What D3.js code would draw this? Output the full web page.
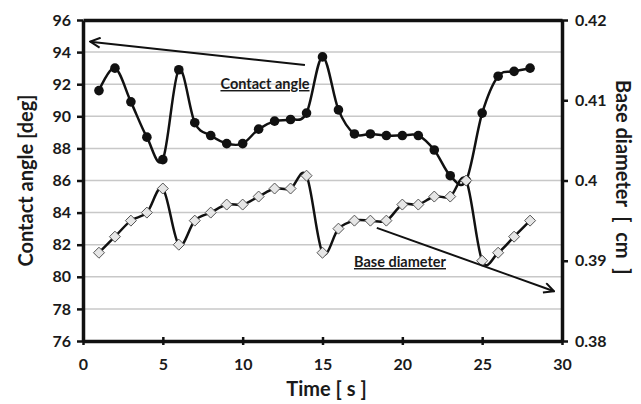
<!DOCTYPE html>
<html>
<head>
<meta charset="utf-8">
<script src="https://cdn.jsdelivr.net/npm/d3@7"></script>
<style>
  body { margin: 0; background: #fff; }
  text { font-family: Lato, "Open Sans", sans-serif; font-weight: bold; fill: #1a1a1a; }
</style>
</head>
<body>
<script>
// data
var tempo = [1, 2, 3, 4, 5, 6, 7, 8, 9, 10, 11, 12, 13, 14, 15, 16, 17, 18, 19, 20,
  21, 22, 23, 24, 25, 26, 27, 28]

var anguloContato = [91.6, 93.0, 90.9, 88.7, 87.3, 92.9, 89.6, 88.8, 88.3, 88.3,
  89.2, 89.7, 89.8, 90.2, 93.7, 90.4, 88.9, 88.9, 88.8, 88.8, 88.8, 87.9, 86.3,
  86.0, 90.2, 92.5, 92.8, 93.0]

var diametroBase = [0.391, 0.393, 0.395, 0.396, 0.399, 0.392, 0.395, 0.396, 0.397,
  0.397, 0.398, 0.399, 0.399, 0.4006, 0.391, 0.394, 0.395, 0.395, 0.395, 0.397,
  0.397, 0.398, 0.398, 0.400, 0.390, 0.391, 0.393, 0.395]

var ticksX = [0, 5, 10, 15, 20, 25, 30]
var ticksAngulo = [76, 78, 80, 82, 84, 86, 88, 90, 92, 94, 96]
var ticksDiametro = [0.38, 0.39, 0.40, 0.41, 0.42]

// setas das anotacoes [tempo, valor]
var setaAngulo = [[13.9, 93.2], [0.45, 94.65]]
var setaDiametro = [[18.4, 0.3941], [29.5, 0.3862]]

var dadosAngulo = tempo.map(function (t, i) { return {t: t, v: anguloContato[i]} })
var dadosDiametro = tempo.map(function (t, i) { return {t: t, v: diametroBase[i]} })

const largura = 641
const altura = 404
const margem = {topo: 20, direita: 79, base: 63, esquerda: 83}

var svg = d3.select('body').append('svg')
  .attr('width', largura)
  .attr('height', altura)

var x = d3.scaleLinear().domain([0, 30]).range([margem.esquerda, largura - margem.direita])
var yA = d3.scaleLinear().domain([76, 96]).range([altura - margem.base, margem.topo])
var yD = d3.scaleLinear().domain([0.38, 0.42]).range([altura - margem.base, margem.topo])

svg.append('defs').append('marker')
  .attr('id', 'ponta')
  .attr('viewBox', '0 0 12 12')
  .attr('refX', 11).attr('refY', 6)
  .attr('markerWidth', 12).attr('markerHeight', 12)
  .attr('markerUnits', 'userSpaceOnUse')
  .attr('orient', 'auto')
  .append('path')
  .attr('d', 'M1,1 L11,6 L1,11')
  .attr('fill', 'none')
  .attr('stroke', '#111')
  .attr('stroke-width', 2)

// linhas de grade
svg.append('g')
  .selectAll('line')
  .data(ticksAngulo.slice(1, -1))
  .join('line')
  .attr('x1', x(0)).attr('x2', x(30))
  .attr('y1', d => yA(d)).attr('y2', d => yA(d))
  .attr('stroke', '#c8c8c8')
  .attr('stroke-width', 1.5)

// eixos
var eixoEsq = svg.append('g')
  .attr('transform', 'translate(' + x(0) + ',0)')
  .call(d3.axisLeft(yA).tickValues(ticksAngulo).tickSize(6).tickPadding(6).tickSizeOuter(0))

var eixoDir = svg.append('g')
  .attr('transform', 'translate(' + x(30) + ',0)')
  .call(d3.axisRight(yD).tickValues(ticksDiametro).tickSize(6).tickPadding(7)
    .tickSizeOuter(0).tickFormat(d => d3.format('')(+d.toFixed(2))))

var eixoBase = svg.append('g')
  .attr('transform', 'translate(0,' + yA(76) + ')')
  .call(d3.axisBottom(x).tickValues(ticksX).tickSize(4).tickPadding(14).tickSizeOuter(0))

var eixoTopo = svg.append('g')
  .attr('transform', 'translate(0,' + yA(96) + ')')
  .call(d3.axisTop(x).tickValues([]).tickSizeOuter(0))

;[eixoEsq, eixoDir, eixoBase, eixoTopo].forEach(function (g) {
  g.select('.domain').attr('stroke', '#111').attr('stroke-width', 3.5)
  g.selectAll('.tick line').attr('stroke', '#111').attr('stroke-width', 2.5)
  g.selectAll('.tick text').attr('font-size', 16).attr('fill', '#1a1a1a')
})
eixoBase.selectAll('.tick line').attr('y1', -4)

// curvas
var linha = function (escala) {
  return d3.line()
    .x(d => x(d.t))
    .y(d => escala(d.v))
    .curve(d3.curveCatmullRom.alpha(0))
}

svg.append('path')
  .attr('d', linha(yA)(dadosAngulo))
  .attr('fill', 'none')
  .attr('stroke', '#111')
  .attr('stroke-width', 2.5)

svg.append('path')
  .attr('d', linha(yD)(dadosDiametro))
  .attr('fill', 'none')
  .attr('stroke', '#111')
  .attr('stroke-width', 2.5)

svg.append('g')
  .selectAll('circle')
  .data(dadosAngulo)
  .join('circle')
  .attr('cx', d => x(d.t))
  .attr('cy', d => yA(d.v))
  .attr('r', 4.8)
  .attr('fill', '#111')

svg.append('g')
  .selectAll('path')
  .data(dadosDiametro)
  .join('path')
  .attr('transform', d => 'translate(' + x(d.t) + ',' + yD(d.v) + ')')
  .attr('d', 'M0,-5.5 L5.5,0 L0,5.5 L-5.5,0 Z')
  .attr('fill', '#e6e6e6')
  .attr('stroke', '#555')
  .attr('stroke-width', 1)

// setas
svg.append('line')
  .attr('x1', x(setaAngulo[0][0])).attr('y1', yA(setaAngulo[0][1]))
  .attr('x2', x(setaAngulo[1][0])).attr('y2', yA(setaAngulo[1][1]))
  .attr('stroke', '#111').attr('stroke-width', 2)
  .attr('marker-end', 'url(#ponta)')

svg.append('line')
  .attr('x1', x(setaDiametro[0][0])).attr('y1', yD(setaDiametro[0][1]))
  .attr('x2', x(setaDiametro[1][0])).attr('y2', yD(setaDiametro[1][1]))
  .attr('stroke', '#111').attr('stroke-width', 2)
  .attr('marker-end', 'url(#ponta)')

// rotulos
svg.append('text')
  .attr('x', 265).attr('y', 89)
  .attr('text-anchor', 'middle')
  .attr('font-size', 14.5)
  .attr('text-decoration', 'underline')
  .text('Contact angle')

svg.append('text')
  .attr('x', 400).attr('y', 267)
  .attr('text-anchor', 'middle')
  .attr('font-size', 14.5)
  .attr('text-decoration', 'underline')
  .text('Base diameter')

// titulos dos eixos
svg.append('text')
  .attr('transform', 'translate(33,' + ((yA(96) + yA(76)) / 2) + ') rotate(-90)')
  .attr('text-anchor', 'middle')
  .attr('font-size', 20)
  .text('Contact angle [deg]')

svg.append('text')
  .attr('transform', 'translate(616,' + (yA(96) + 60) + ') rotate(90)')
  .attr('text-anchor', 'start')
  .attr('font-size', 20)
  .style('white-space', 'pre')
  .text('Base diameter  [  cm  ]')

svg.append('text')
  .attr('x', (x(0) + x(30)) / 2 + 4).attr('y', 396)
  .attr('text-anchor', 'middle')
  .attr('font-size', 20)
  .text('Time [ s ]')
</script>
</body>
</html>
